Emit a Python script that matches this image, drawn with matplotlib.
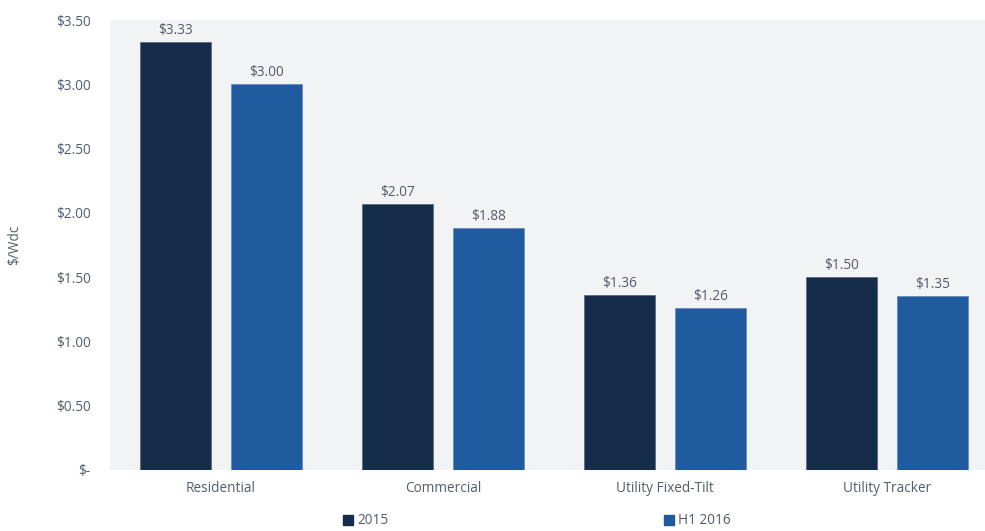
import numpy as np
import matplotlib.pyplot as plt
from matplotlib.patches import Patch

categories = ['Residential', 'Commercial', 'Utility Fixed-Tilt', 'Utility Tracker']
series_names = ['2015', 'H1 2016']
vals_2015 = [3.33, 2.07, 1.36, 1.50]
vals_h1_2016 = [3.00, 1.88, 1.26, 1.35]
yticks = [0, 0.5, 1.0, 1.5, 2.0, 2.5, 3.0, 3.5]
ytick_labels = ['$-', '$0.50', '$1.00', '$1.50', '$2.00', '$2.50', '$3.00', '$3.50']

plt.rcParams['font.family'] = ['Open Sans', 'DejaVu Sans']
txt_col = '#545b6b'
dark = '#152c4a'
blue = '#1f5b9e'
fs = 9.8

fig = plt.figure(figsize=(9.85, 5.31), dpi=100)
ax = fig.add_axes([110 / 985, 61 / 531, 875 / 985, 450 / 531])
ax.set_facecolor('#f2f3f5')

x = np.arange(len(categories))
w = 0.324
off = 0.205
b1 = ax.bar(x - off, vals_2015, w, color=dark, edgecolor='#5a6a80', linewidth=0.6, label=series_names[0])
b2 = ax.bar(x + off, vals_h1_2016, w, color=blue, edgecolor='#6a8cc0', linewidth=0.6, label=series_names[1])

for bars, vals in [(b1, vals_2015), (b2, vals_h1_2016)]:
    for r, v in zip(bars, vals):
        ax.annotate(f'${v:.2f}', (r.get_x() + r.get_width() / 2, v), xytext=(0, 3),
                    textcoords='offset points', ha='center', va='bottom',
                    fontsize=fs, color=txt_col)

ax.set_xlim(-0.5, 875 / 222 - 0.5)
ax.set_ylim(0, 3.5)
ax.set_yticks(yticks)
ax.set_yticklabels(ytick_labels)
ax.set_xticks(x)
ax.set_xticklabels(categories)
ax.tick_params(length=0, labelsize=fs, labelcolor=txt_col)
ax.tick_params(axis='y', pad=14)
ax.tick_params(axis='x', pad=8)
for s in ax.spines.values():
    s.set_visible(False)

fig.text(15 / 985, 1 - 245 / 531, '$/Wdc', rotation=90, ha='center', va='center',
         fontsize=fs, color=txt_col)

handles = [Patch(color=dark), Patch(color=blue)]
fig.legend(handles, series_names, loc='center', bbox_to_anchor=(537 / 985, 1 - 521 / 531),
           ncol=2, frameon=False, handlelength=0.7, handleheight=0.7, handletextpad=0.3,
           columnspacing=20.3, fontsize=fs, labelcolor=txt_col)

fig.savefig('out.png', dpi=100)
